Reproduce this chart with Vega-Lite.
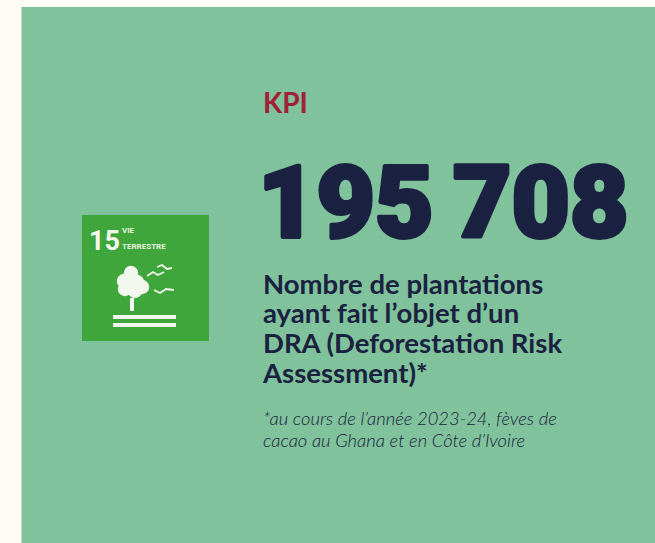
{"$schema":"https://vega.github.io/schema/vega-lite/v6.json","width":655,"height":543,"autosize":{"type":"fit","contains":"padding"},"padding":0,"background":"#FFFBF5","view":{"stroke":null},"config":{"axis":{"disable":true}},
"encoding":{"x":{"field":"x","type":"quantitative","scale":{"domain":[0,655],"nice":false,"zero":false},"axis":null},"y":{"field":"y","type":"quantitative","scale":{"domain":[543,0],"nice":false,"zero":false},"axis":null}},
"layer":[
{"data":{"values":[{"part":"panel","x":21.5,"x2":655,"y":7,"y2":543}]},"mark":{"type":"rect","color":"#7FC29B"},"encoding":{"x2":{"field":"x2"},"y2":{"field":"y2"}}},
{"data":{"values":[{"part":"tile","x":82,"x2":209,"y":215,"y2":341}]},"mark":{"type":"rect","color":"#3FA63B"},"encoding":{"x2":{"field":"x2"},"y2":{"field":"y2"}}},
{"data":{"values":[{"part":"trunk","x":130,"x2":134,"y":298,"y2":311},{"part":"ground","x":113,"x2":176,"y":315,"y2":319},{"part":"ground","x":113,"x2":176,"y":323,"y2":327}]},"mark":{"type":"rect","color":"#F3F8EE"},"encoding":{"x2":{"field":"x2"},"y2":{"field":"y2"}}},
{"data":{"values":[{"x":131,"y":273},{"x":124,"y":281},{"x":137,"y":282},{"x":125,"y":289},{"x":135,"y":291},{"x":142,"y":287},{"x":131,"y":284}]},"mark":{"type":"point","filled":true,"color":"#F3F8EE","opacity":1,"size":210}},
{"data":{"values":[{"b":1,"x":147,"y":276},{"b":1,"x":153,"y":272},{"b":1,"x":158,"y":275},{"b":1,"x":164,"y":272},{"b":2,"x":157,"y":267},{"b":2,"x":162,"y":265},{"b":2,"x":167,"y":269},{"b":2,"x":172,"y":268},{"b":3,"x":154,"y":290},{"b":3,"x":160,"y":293},{"b":3,"x":166,"y":289},{"b":3,"x":174,"y":290}]},"mark":{"type":"line","color":"#F3F8EE","strokeWidth":1.8},"encoding":{"detail":{"field":"b"}}},
{"data":{"values":[{"t":"15","x":89,"y":250}]},"mark":{"type":"text","align":"left","baseline":"alphabetic","font":"Roboto","fontWeight":"bold","fontSize":27,"color":"#F3F8EE"},"encoding":{"text":{"field":"t"}}},
{"data":{"values":[{"t":"VIE","x":122,"y":233},{"t":"TERRESTRE","x":122,"y":249}]},"mark":{"type":"text","align":"left","baseline":"alphabetic","font":"Roboto","fontWeight":"bold","fontSize":8,"color":"#E6F2DE"},"encoding":{"text":{"field":"t"}}},
{"data":{"values":[{"t":"KPI","x":263,"y":113}]},"mark":{"type":"text","align":"left","baseline":"alphabetic","font":"Lato","fontWeight":"bold","fontSize":28,"color":"#A3203A"},"encoding":{"text":{"field":"t"}}},
{"data":{"values":[{"t":"195","x":258,"y":237},{"t":"708","x":453,"y":237}]},"mark":{"type":"text","align":"left","baseline":"alphabetic","font":"Roboto","fontWeight":900,"fontSize":101,"color":"#1B2140","stroke":"#1B2140","strokeWidth":4,"strokeJoin":"round"},"encoding":{"text":{"field":"t"}}},
{"data":{"values":[{"t":"Nombre de plantations","x":263,"y":294},{"t":"ayant fait l’objet d’un","x":263,"y":323},{"t":"DRA (Deforestation Risk","x":263,"y":353},{"t":"Assessment)*","x":263,"y":383}]},"mark":{"type":"text","align":"left","baseline":"alphabetic","font":"Lato","fontWeight":"bold","fontSize":27.5,"color":"#1B2140"},"encoding":{"text":{"field":"t"}}},
{"data":{"values":[{"t":"*au cours de l’année 2023-24, fèves de","x":263,"y":425},{"t":"cacao au Ghana et en Côte d’Ivoire","x":263,"y":447}]},"mark":{"type":"text","align":"left","baseline":"alphabetic","font":"Lato","fontStyle":"italic","fontWeight":300,"fontSize":18.4,"color":"#1B2140"},"encoding":{"text":{"field":"t"}}}
]}
